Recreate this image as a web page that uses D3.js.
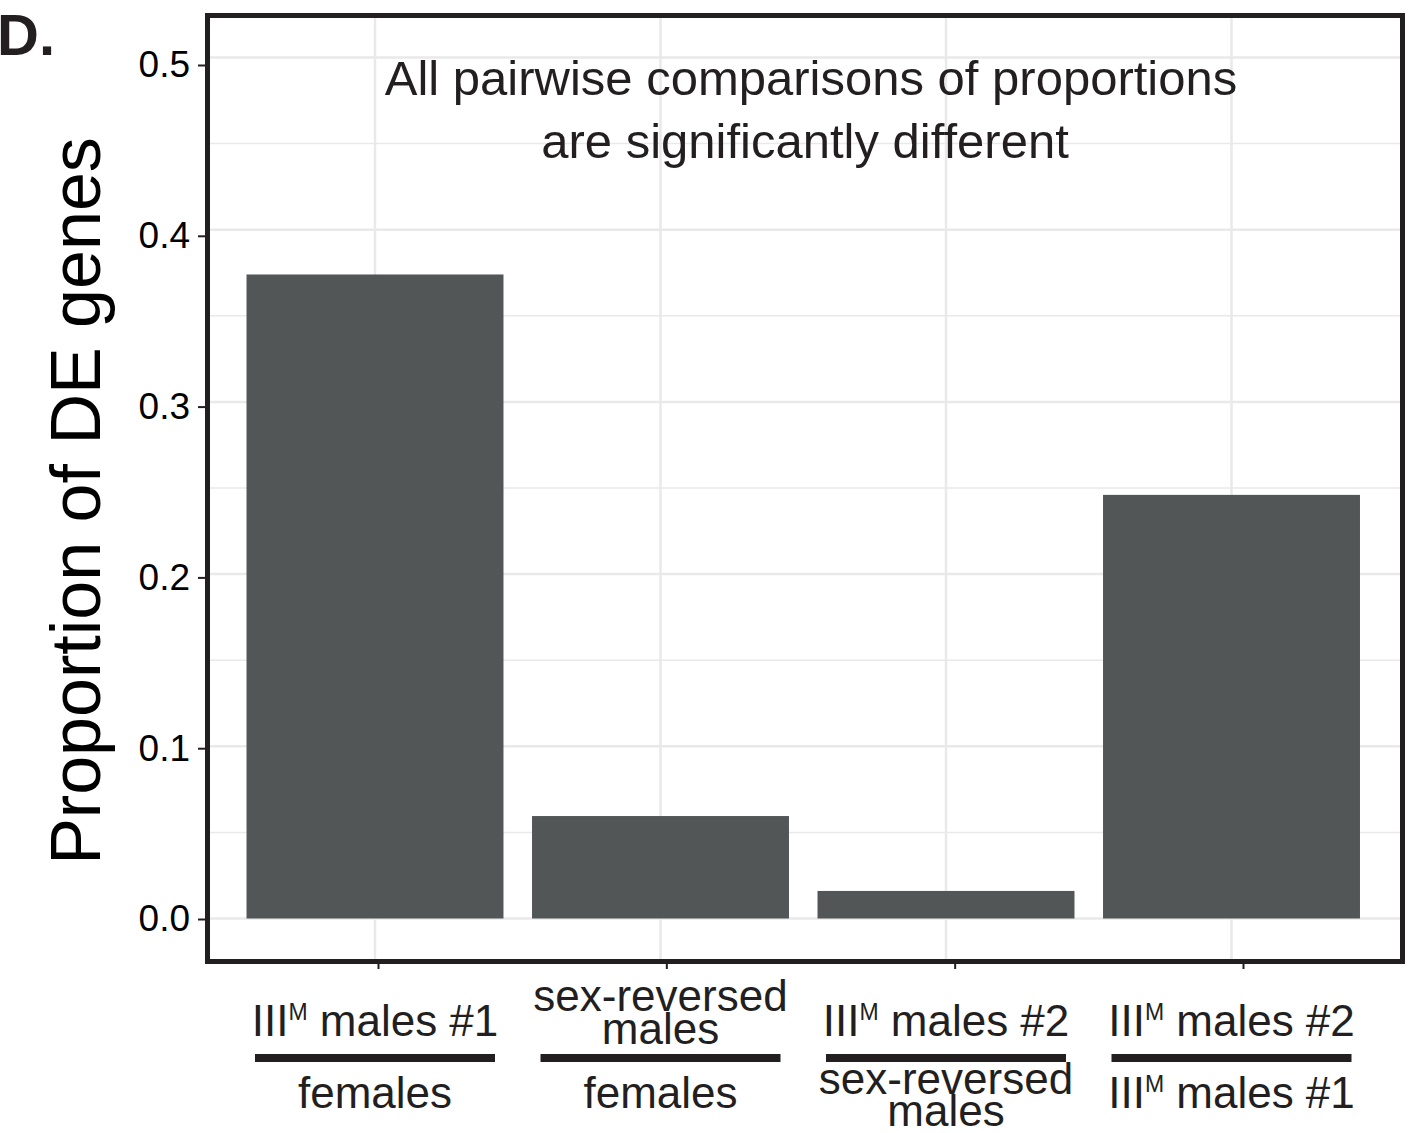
<!DOCTYPE html>
<html>
<head>
<meta charset="utf-8">
<script src="https://cdn.jsdelivr.net/npm/d3@7"></script>
<style>
  body { margin: 0; background: #fff; }
  svg { display: block; font-family: "Liberation Sans", Arial, Helvetica, sans-serif; }
</style>
</head>
<body>
<svg id="chart"></svg>
<script>
// comparisons (numerator over denominator), "^M" marks the superscript
const numerators = ["III^M males #1", "sex-reversed\nmales", "III^M males #2", "III^M males #2"];
const denominators = ["females", "females", "sex-reversed\nmales", "III^M males #1"];
const proportions = [0.374, 0.0595, 0.016, 0.246];
const yTicks = [0, 0.1, 0.2, 0.3, 0.4, 0.5];
const yMinor = [0.05, 0.15, 0.25, 0.35, 0.45];
const note = ["All pairwise comparisons of proportions", "are significantly different"];

const width = 1415, height = 1133;
const ink = "#231f20";
const barColor = "#525657";
const gridColor = "#e9e9e9";

const panel = {left: 205, right: 1405, top: 13, bottom: 964};
const ids = d3.range(proportions.length);

const svg = d3.select("#chart").attr("width", width).attr("height", height);

// scales
let x = d3.scalePoint().domain(ids).range([375, 1231.5]);
let xTick = d3.scalePoint().domain(ids).range([378, 1243]);
let y = d3.scaleLinear().domain([0, 0.5]).range([918.5, 57.5]);
let yTick = d3.scaleLinear().domain([0, 0.5]).range([919, 65]);
const barW = x.step() * 0.9;

// grid
svg.append("g").selectAll("line")
    .data(yMinor)
    .join("line")
    .attr("x1", panel.left).attr("x2", panel.right)
    .attr("y1", d => y(d)).attr("y2", d => y(d))
    .attr("stroke", gridColor).attr("stroke-width", 1.5);

svg.append("g").selectAll("line")
    .data(yTicks)
    .join("line")
    .attr("x1", panel.left).attr("x2", panel.right)
    .attr("y1", d => y(d)).attr("y2", d => y(d))
    .attr("stroke", gridColor).attr("stroke-width", 2.5);

svg.append("g").selectAll("line")
    .data(ids)
    .join("line")
    .attr("x1", d => x(d)).attr("x2", d => x(d))
    .attr("y1", panel.top).attr("y2", panel.bottom)
    .attr("stroke", gridColor).attr("stroke-width", 2.5);

// bars
svg.append("g").selectAll("rect")
    .data(ids)
    .join("rect")
    .attr("x", d => x(d) - barW / 2)
    .attr("width", barW)
    .attr("y", d => y(proportions[d]))
    .attr("height", d => y(0) - y(proportions[d]))
    .attr("fill", barColor);

// panel border
svg.append("rect")
    .attr("x", panel.left + 2.5).attr("y", panel.top + 2.5)
    .attr("width", panel.right - panel.left - 5)
    .attr("height", panel.bottom - panel.top - 5)
    .attr("fill", "none")
    .attr("stroke", ink).attr("stroke-width", 5);

// axes
let axisY = d3.axisLeft(yTick).tickValues(yTicks).tickSize(9).tickPadding(8).tickFormat(d3.format(".1f"));
let gy = svg.append("g").attr("transform", "translate(207,0)").call(axisY);
gy.select(".domain").remove();
gy.selectAll(".tick line").attr("stroke", ink).attr("stroke-width", 2);
gy.selectAll(".tick text")
    .attr("fill", "#000")
    .style("font-size", "37px")
    .style("font-family", "'Liberation Sans', Arial, sans-serif");

let axisX = d3.axisBottom(xTick).tickSize(7).tickFormat("");
let gx = svg.append("g").attr("transform", "translate(0,962)").call(axisX);
gx.select(".domain").remove();
gx.selectAll(".tick line").attr("stroke", ink).attr("stroke-width", 2);

// y title
svg.append("text")
    .attr("transform", "translate(100,501) rotate(-90)")
    .attr("text-anchor", "middle")
    .attr("fill", "#000")
    .style("font-size", "70px")
    .text("Proportion of DE genes");

// panel label
svg.append("text")
    .attr("x", -3).attr("y", 55)
    .attr("fill", ink)
    .style("font-size", "58px")
    .style("font-weight", "bold")
    .text("D.");

// note in the panel
svg.append("g").selectAll("text")
    .data(note)
    .join("text")
    .attr("x", (d, i) => i === 0 ? 811 : 805)
    .attr("y", (d, i) => 95 + i * 63)
    .attr("text-anchor", "middle")
    .attr("fill", ink)
    .style("font-size", "49px")
    .text(d => d);

// writes one label line, splitting out the ^M superscript
function writeLine(sel, str) {
    let parts = str.split("^M");
    sel.append("tspan").text(parts[0]);
    if (parts.length > 1) {
        sel.append("tspan").attr("dy", -16).style("font-size", "23px").text("M");
        sel.append("tspan").attr("dy", 16).text(parts[1]);
    }
}

function writeLabel(g, str, baselines) {
    let lines = str.split("\n");
    lines.forEach((line, i) => {
        let t = g.append("text")
            .attr("y", baselines[lines.length - 1][i])
            .attr("text-anchor", "middle")
            .attr("fill", ink)
            .style("font-size", "44px");
        writeLine(t, line);
    });
}

const labels = svg.append("g").selectAll("g")
    .data(ids)
    .join("g")
    .attr("transform", d => `translate(${x(d)},0)`);

labels.each(function (d) {
    let g = d3.select(this);
    writeLabel(g, numerators[d], [[1036], [1011, 1044]]);
    writeLabel(g, denominators[d], [[1108], [1094, 1126]]);
    g.append("rect")
        .attr("x", -120).attr("width", 240)
        .attr("y", 1054).attr("height", 8)
        .attr("fill", ink);
});
</script>
</body>
</html>
